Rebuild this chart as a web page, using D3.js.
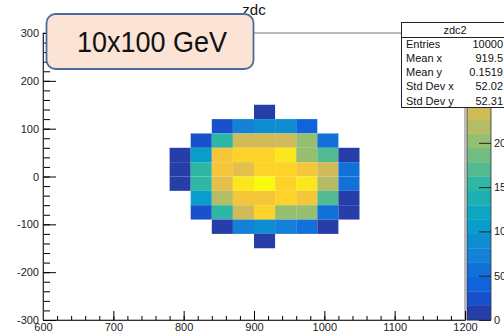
<!DOCTYPE html>
<html>
<head>
<meta charset="utf-8">
<script src="https://cdn.jsdelivr.net/npm/d3@7"></script>
<style>
  body { margin: 0; background: #fff; }
  text { font-family: "Liberation Sans", Arial, sans-serif; }
</style>
</head>
<body>
<script>
// bin lower edges (30 units wide) and cell contents, rows top -> bottom
const binWidth = 30;
const xLows = [780, 810, 840, 870, 900, 930, 960, 990, 1020];
const yLows = [120, 90, 60, 30, 0, -30, -60, -90, -120, -150];
const counts = [
  [0,   0,   0,   0,  12,   0,   0,   0,  0],
  [0,   0,  25,  75,  95,  95,  45,   0,  0],
  [0,  30, 160, 235, 235, 230, 205,  50,  0],
  [12, 105, 270, 280, 280, 305, 210, 175, 12],
  [12, 160, 270, 245, 280, 285, 265, 230, 55],
  [12, 160, 250, 300, 324, 285, 300, 215, 55],
  [0, 105, 215, 265, 270, 280, 265, 170, 12],
  [0,  30, 160, 240, 285, 210, 195,  50, 12],
  [0,   0,  12,  65,  95,  80,  50,  12,  0],
  [0,   0,   0,   0,  12,   0,   0,   0,  0]
];
const zMax = 324;
const nLevels = 20;

const xTicks = [600, 700, 800, 900, 1000, 1100, 1200];
const yTicks = [-300, -200, -100, 0, 100, 200, 300];
// the 250 / 300 labels sit behind the stats box
const zTicks = [0, 50, 100, 150, 200];

const histTitle = "zdc";
const statsName = "zdc2";
const statsLabels = ["Entries", "Mean x", "Mean y", "Std Dev x", "Std Dev y"];
const statsValues = ["10000", "919.5", "0.1519", "52.02", "52.31"];
const boxLabel = "10x100 GeV";

// ROOT kBird palette
const birdStops = [0, 0.125, 0.25, 0.375, 0.5, 0.625, 0.75, 0.875, 1];
const birdR = [0.2082, 0.0592, 0.0780, 0.0232, 0.1802, 0.5301, 0.8186, 0.9956, 0.9764];
const birdG = [0.1664, 0.3599, 0.5041, 0.6419, 0.7178, 0.7492, 0.7328, 0.7862, 0.9832];
const birdB = [0.5293, 0.8684, 0.8385, 0.7914, 0.6425, 0.4662, 0.3499, 0.1968, 0.0539];
const bird = d3.scaleLinear()
  .domain(birdStops)
  .range(birdStops.map((s, i) => d3.rgb(birdR[i] * 255, birdG[i] * 255, birdB[i] * 255)))
  .interpolate(d3.interpolateRgb);
const levelColor = i => bird(Math.min(1, Math.floor((i + 0.99) * 255 / nLevels) / 254));
const valueColor = v => levelColor(Math.min(nLevels - 1, Math.floor(v / zMax * nLevels)));

const W = 504, H = 334;
const frame = { left: 43, right: 465, top: 33, bottom: 320 };

const svg = d3.select("body").append("svg")
  .attr("width", W).attr("height", H);

const x = d3.scaleLinear().domain([600, 1200]).range([frame.left, frame.right]);
const y = d3.scaleLinear().domain([-300, 300]).range([frame.bottom, frame.top]);
const z = d3.scaleLinear().domain([0, zMax]).range([frame.bottom, frame.top]);

// title
svg.append("text")
  .attr("x", 254).attr("y", 15)
  .attr("text-anchor", "middle")
  .attr("font-size", 15)
  .attr("fill", "#111")
  .text(histTitle);

// cells
const cells = [];
yLows.forEach((yl, r) => xLows.forEach((xl, c) => {
  if (counts[r][c] > 0) cells.push({ xl, yl, v: counts[r][c] });
}));
svg.append("g").selectAll("rect").data(cells).join("rect")
  .attr("x", d => x(d.xl))
  .attr("y", d => y(d.yl + binWidth))
  .attr("width", d => x(d.xl + binWidth) - x(d.xl))
  .attr("height", d => y(d.yl) - y(d.yl + binWidth))
  .attr("fill", d => valueColor(d.v));

// frame
svg.append("rect")
  .attr("x", frame.left).attr("y", frame.top)
  .attr("width", frame.right - frame.left)
  .attr("height", frame.bottom - frame.top)
  .attr("fill", "none").attr("stroke", "#777").attr("stroke-width", 1);

// x axis: minor then major ticks pointing inward
svg.append("g")
  .attr("transform", `translate(0,${frame.bottom})`)
  .call(d3.axisBottom(x).tickValues(d3.range(600, 1201, 20)).tickSize(-4).tickFormat(""))
  .call(g => g.select(".domain").remove());
svg.append("g")
  .attr("transform", `translate(0,${frame.bottom})`)
  .call(d3.axisBottom(x).tickValues(xTicks).tickSize(-9).tickPadding(3).tickFormat(d => String(d)))
  .call(g => g.select(".domain").attr("stroke", "#333"))
  .call(g => g.selectAll("text").attr("font-size", 11).attr("fill", "#222"));

// y axis
svg.append("g")
  .attr("transform", `translate(${frame.left},0)`)
  .call(d3.axisLeft(y).tickValues(d3.range(-300, 301, 20)).tickSize(-7).tickFormat(""))
  .call(g => g.select(".domain").remove());
svg.append("g")
  .attr("transform", `translate(${frame.left},0)`)
  .call(d3.axisLeft(y).tickValues(yTicks).tickSize(-13).tickPadding(4).tickFormat(d => String(d)))
  .call(g => g.select(".domain").attr("stroke", "#333"))
  .call(g => g.selectAll("text").attr("font-size", 11).attr("fill", "#222"));

// colour bar
const barX0 = 467, barX1 = 491;
svg.append("g").selectAll("rect").data(d3.range(nLevels)).join("rect")
  .attr("x", barX0)
  .attr("width", barX1 - barX0)
  .attr("y", i => z((i + 1) * zMax / nLevels))
  .attr("height", i => z(i * zMax / nLevels) - z((i + 1) * zMax / nLevels) + 0.3)
  .attr("fill", i => levelColor(i));
svg.append("rect")
  .attr("x", barX0).attr("y", frame.top)
  .attr("width", barX1 - barX0).attr("height", frame.bottom - frame.top)
  .attr("fill", "none").attr("stroke", "#333").attr("stroke-width", 0.8);
svg.append("g")
  .attr("transform", `translate(${barX1},0)`)
  .call(d3.axisRight(z).tickValues(zTicks).tickSize(-12).tickPadding(3).tickFormat(d => String(d)))
  .call(g => g.select(".domain").remove())
  .call(g => g.selectAll("line").attr("stroke", "#222"))
  .call(g => g.selectAll("text").attr("font-size", 11).attr("fill", "#222"));

// stats box
const sb = { x: 401.5, y: 22.5, w: 106, h: 85, head: 15 };
const stats = svg.append("g");
stats.append("rect")
  .attr("x", sb.x).attr("y", sb.y).attr("width", sb.w).attr("height", sb.h)
  .attr("fill", "#fff").attr("stroke", "#222").attr("stroke-width", 1);
stats.append("line")
  .attr("x1", sb.x).attr("x2", sb.x + sb.w)
  .attr("y1", sb.y + sb.head).attr("y2", sb.y + sb.head)
  .attr("stroke", "#222");
stats.append("text")
  .attr("x", 455).attr("y", sb.y + 11.5)
  .attr("text-anchor", "middle").attr("font-size", 11).attr("fill", "#111")
  .text(statsName);
const rowY = d3.scalePoint().domain(statsLabels).range([48, 104.5]);
stats.selectAll("text.lab").data(statsLabels).join("text")
  .attr("class", "lab")
  .attr("x", 406).attr("y", d => rowY(d))
  .attr("font-size", 11).attr("fill", "#111")
  .text(d => d);
stats.selectAll("text.val").data(statsValues).join("text")
  .attr("class", "val")
  .attr("x", 503).attr("y", (d, i) => rowY(statsLabels[i]))
  .attr("text-anchor", "end").attr("font-size", 11).attr("fill", "#111")
  .text(d => d);

// annotation box
svg.append("rect")
  .attr("x", 46.5).attr("y", 14).attr("width", 207).attr("height", 55)
  .attr("rx", 9).attr("ry", 9)
  .attr("fill", "#fbe3d6").attr("stroke", "#4d6a9c").attr("stroke-width", 1.8);
svg.append("text")
  .attr("x", 77).attr("y", 52)
  .attr("font-family", "Lato, 'DejaVu Sans', sans-serif")
  .attr("font-size", 29)
  .attr("fill", "#111")
  .attr("textLength", 150).attr("lengthAdjust", "spacingAndGlyphs")
  .text(boxLabel);
</script>
</body>
</html>
